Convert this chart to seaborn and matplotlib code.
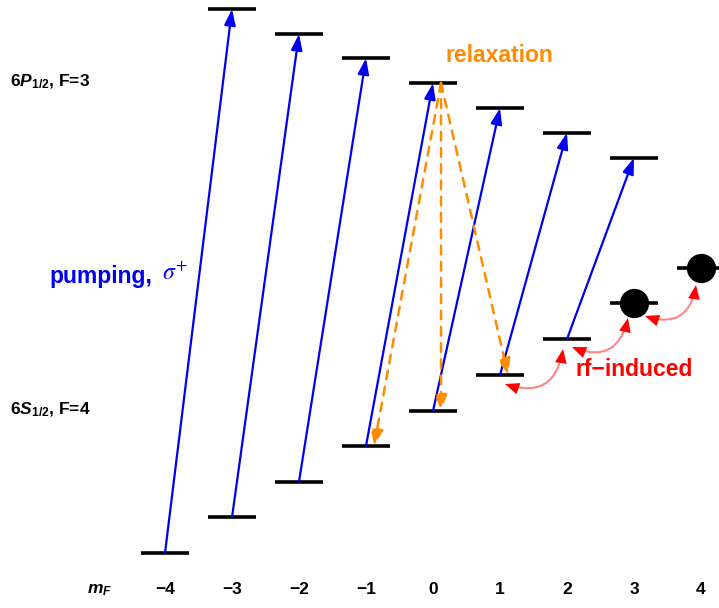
import numpy as np
import pandas as pd
import matplotlib
matplotlib.use("Agg")
import matplotlib.pyplot as plt
import seaborn as sns
from matplotlib.patches import FancyArrowPatch

# ---- data ----
m_ground = [-4, -3, -2, -1, 0, 1, 2, 3, 4]
E_ground = [0.00, 1.00, 2.00, 3.01, 3.99, 5.00, 6.01, 7.02, 8.01]
m_upper = [-3, -2, -1, 0, 1, 2, 3]
E_upper = [15.28, 14.58, 13.90, 13.20, 12.50, 11.80, 11.10]
mF_labels = ["\u22124", "\u22123", "\u22122", "\u22121", "0", "1", "2", "3", "4"]
relax_targets = [-1, 0, 1]
populated = [3, 4]

sns.set_theme(style="white")
plt.rcParams["font.family"] = ["Liberation Sans", "DejaVu Sans"]
plt.rcParams["text.color"] = "black"
plt.rcParams["mathtext.fontset"] = "custom"
plt.rcParams["mathtext.rm"] = "Liberation Sans:bold"
plt.rcParams["mathtext.bf"] = "Liberation Sans:bold"
plt.rcParams["mathtext.it"] = "Liberation Sans:italic:bold"

fig = plt.figure(figsize=(7.19, 6.08), dpi=100)
ax = fig.add_axes([0, 0, 1, 1])
ax.set_xlim(-433 / 67, (719 - 433) / 67)
ax.set_ylim((553 - 608) / 35.6, 553 / 35.6)
ax.axis("off")

hw = 24 / 67
g = dict(zip(m_ground, E_ground))
u = dict(zip(m_upper, E_upper))

# levels
ax.hlines(E_ground, np.array(m_ground) - hw, np.array(m_ground) + hw, color="black", lw=2.6, zorder=3)
ax.hlines(E_upper, np.array(m_upper) - hw, np.array(m_upper) + hw, color="black", lw=2.6, zorder=3)

# pumping arrows
for m in m_ground:
    if m + 1 in u:
        a = FancyArrowPatch((m, g[m]), (m + 1, u[m + 1]),
                            arrowstyle="-|>,head_length=0.8,head_width=0.28",
                            mutation_scale=12, color="#0000ee", lw=1.6,
                            shrinkA=0, shrinkB=0, zorder=4)
        ax.add_patch(a)

# relaxation arrows
x0 = 8 / 67
for m in relax_targets:
    a = FancyArrowPatch((0 + x0, u[0]), (m + x0, g[m]),
                        arrowstyle="-|>,head_length=0.8,head_width=0.3",
                        mutation_scale=12, color="#ff8c00", lw=1.8,
                        linestyle=(0, (3.5, 3)), shrinkA=0, shrinkB=0, zorder=5)
    ax.add_patch(a)

# rf arrows
rf_pts = [((505, 384), (563, 349)), ((572, 347), (628, 318)), ((645, 316), (696, 285))]
for (pa, pb) in rf_pts:
    A = ((pa[0] - 433) / 67, (553 - pa[1]) / 35.6)
    B = ((pb[0] - 433) / 67, (553 - pb[1]) / 35.6)
    line = FancyArrowPatch(A, B, arrowstyle="-", connectionstyle="arc3,rad=0.6",
                           color="#ff7070", lw=1.5, alpha=0.85, shrinkA=4, shrinkB=4, zorder=4)
    ax.add_patch(line)
    heads = FancyArrowPatch(A, B, arrowstyle="<|-|>,head_length=0.85,head_width=0.35",
                            connectionstyle="arc3,rad=0.6", mutation_scale=12,
                            color="#ff0000", lw=0, shrinkA=0, shrinkB=0, zorder=5)
    ax.add_patch(heads)

# populated states
dots = pd.DataFrame({"m": populated, "E": [g[m] for m in populated]})
sns.scatterplot(data=dots, x="m", y="E", s=380, color="black", edgecolor="black", ax=ax, zorder=6, legend=False)
ax.set_xlabel("")
ax.set_ylabel("")

# text
lab_x = (10 - 433) / 67
ax.text(lab_x, (553 - 82) / 35.6, r"6$\mathit{P}_{1/2}$, F=3", fontsize=12.5, fontweight="bold",
        ha="left", va="center", color="black")
ax.text(lab_x, (553 - 410) / 35.6, r"6$\mathit{S}_{1/2}$, F=4", fontsize=12.5, fontweight="bold",
        ha="left", va="center", color="black")

ymf = (553 - 590) / 35.6
for m, lab in zip(m_ground, mF_labels):
    ax.text(m, ymf, lab, fontsize=12.5, fontweight="bold", ha="center", va="center", color="black")
ax.text((100 - 433) / 67, ymf, r"$\mathit{m}_{\mathit{F}}$", fontsize=12.5, ha="center", va="center",
        color="black")

ax.text((499 - 433) / 67, (553 - 55) / 35.6, "relaxation", color="#ff8c00", fontsize=16.5,
        fontweight="bold", ha="center", va="center")
ax.text((634 - 433) / 67, (553 - 370) / 35.6, "rf\u2212induced", color="#ff0000", fontsize=16.5,
        fontweight="bold", ha="center", va="center")
ax.text((152 - 433) / 67, (553 - 276) / 35.6, "pumping,", color="#0000ee", fontsize=16.5,
        fontweight="bold", ha="right", va="center")
ax.text((162 - 433) / 67, (553 - 274) / 35.6, r"$\sigma^{+}$", color="#0000ee", fontsize=17,
        ha="left", va="center", math_fontfamily="stix")

fig.savefig("out.png", dpi=100)
